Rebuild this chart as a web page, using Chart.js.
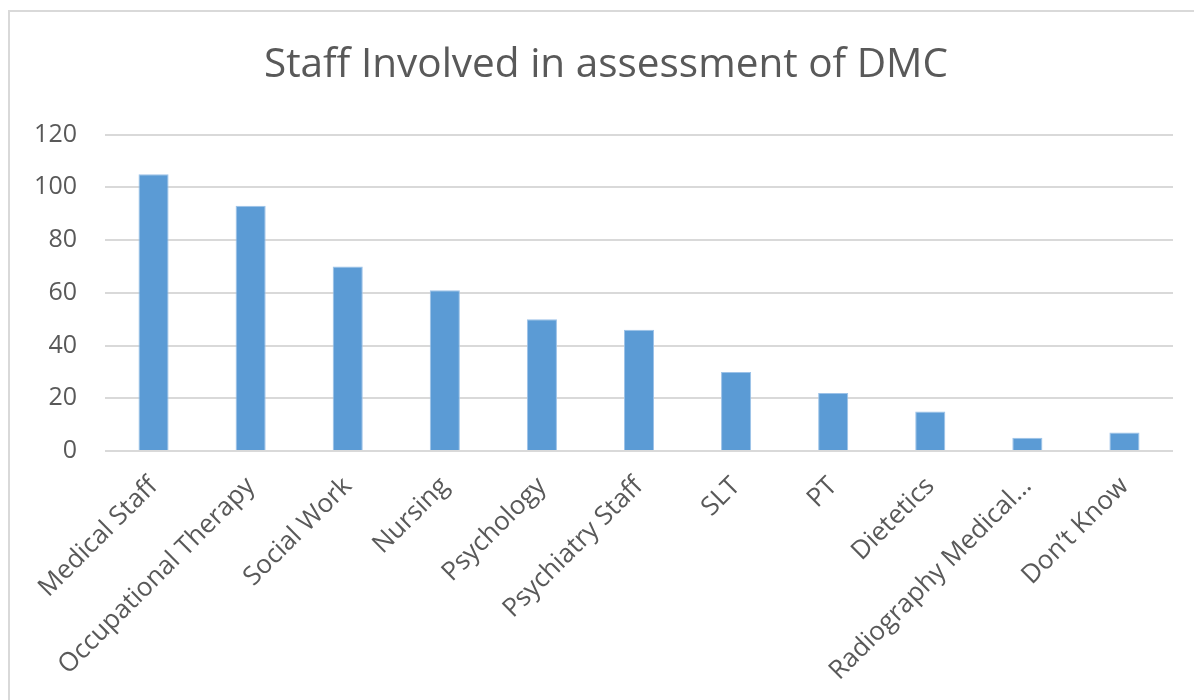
<!DOCTYPE html>
<html>
<head>
<meta charset="utf-8">
<script src="https://cdn.jsdelivr.net/npm/chart.js@4/dist/chart.umd.min.js"></script>
<style>
  html, body { margin: 0; padding: 0; background: #fff; overflow: hidden; }
  #frame {
    position: absolute; left: 8px; top: 10px; width: 1220px; height: 720px;
    border-left: 2px solid #d9d9d9; border-top: 2px solid #d9d9d9;
  }
  #wrap { position: absolute; left: 0; top: 0; width: 1212px; height: 700px; }
</style>
</head>
<body>
<div id="frame"></div>
<div id="wrap"><canvas id="staffChart"></canvas></div>
<script>
const categories = [
  "Medical Staff", "Occupational Therapy", "Social Work", "Nursing",
  "Psychology", "Psychiatry Staff", "SLT", "PT", "Dietetics",
  "Radiography Medical…", "Don’t Know"
];
const staffCounts = [105, 93, 70, 61, 50, 46, 30, 22, 15, 5, 7];
const yTicks = [0, 20, 40, 60, 80, 100, 120];

const textColor = "#595959";
const gridColor = "#d9d9d9";

const staffChart = new Chart(document.getElementById("staffChart"), {
  type: "bar",
  data: {
    labels: categories,
    datasets: [
      {
        data: staffCounts,
        backgroundColor: "#5b9bd5",
        borderColor: "#9cc2e8",
        borderWidth: 1,
        barPercentage: 0.31,
        categoryPercentage: 1,
      },
    ],
  },
  options: {
    responsive: true,
    maintainAspectRatio: false,
    animation: false,
    layout: { padding: { left: 10, right: 10, top: 0, bottom: 0 } },
    plugins: {
      legend: { display: false },
      tooltip: { enabled: false },
      title: {
        display: true,
        text: "Staff Involved in assessment of DMC",
        color: textColor,
        font: { family: "Open Sans", size: 40.5, weight: "normal", lineHeight: 1.2 },
        padding: { top: 41, bottom: 45 },
      },
    },
    scales: {
      x: {
        grid: { display: false, drawTicks: false },
        border: { display: false },
        ticks: {
          color: textColor,
          font: { family: "Open Sans", size: 26 },
          minRotation: 45,
          maxRotation: 45,
          autoSkip: false,
          padding: 20,
        },
        afterFit: function (scale) {
          scale.height = 700 - 451;
        },
      },
      y: {
        min: 0,
        max: 120,
        afterBuildTicks: function (scale) {
          scale.ticks = yTicks.map(function (v) { return { value: v }; });
        },
        grid: { color: gridColor, lineWidth: 2, drawTicks: false },
        border: { display: false },
        ticks: {
          color: textColor,
          font: { family: "Open Sans", size: 25 },
          padding: 28,
        },
        afterFit: function (scale) {
          scale.width = 105 - 10;
        },
      },
      // empty spacer on the right so the title centres over the whole frame
      spacer: {
        position: "right",
        display: true,
        grid: { display: false, drawTicks: false },
        border: { display: false },
        ticks: { display: false },
        afterFit: function (scale) {
          scale.width = 1212 - 10 - 1173;
        },
      },
    },
  },
});
</script>
</body>
</html>
